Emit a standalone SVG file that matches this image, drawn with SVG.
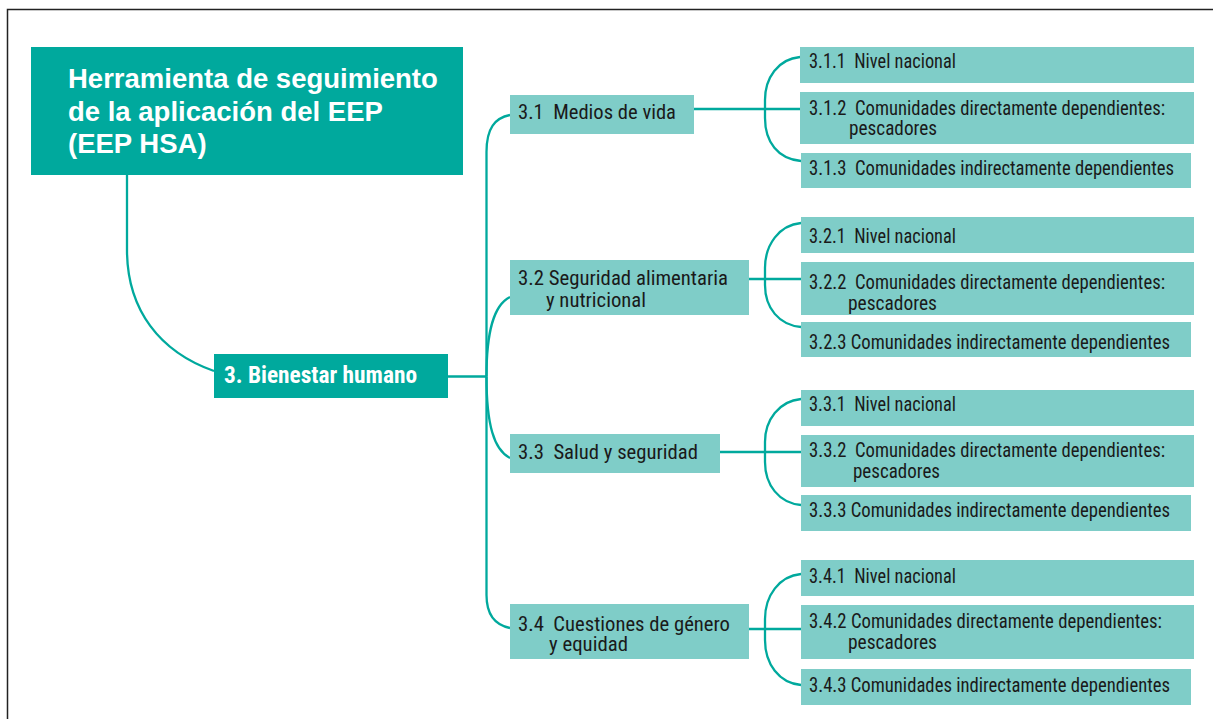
<svg xmlns="http://www.w3.org/2000/svg" width="1213" height="719" viewBox="0 0 1213 719">
<style>
.dark{fill:#00A99D}
.light{fill:#7FCDC8}
.con{fill:none;stroke:#00A99D;stroke-width:2.3}
.title{font-family:'Liberation Sans',Arial,sans-serif;font-weight:bold;font-size:27.5px;fill:#fff}
.nb{font-family:'Liberation Sans Narrow','Roboto Condensed','DejaVu Sans Condensed','Liberation Sans',sans-serif;font-weight:bold;font-size:24px;fill:#fff}
.t{font-family:'Liberation Sans Narrow','Roboto Condensed','DejaVu Sans Condensed','Liberation Sans',sans-serif;font-size:20.5px;fill:#1a1a1a}
</style>
<rect width="1213" height="719" fill="#fff"/>
<path d="M7.5,720 V9.5 H1214" fill="none" stroke="#222" stroke-width="1.5"/>
<g id="connectors">
<path class="con" d="M127,175 V250 C127,310 160,352 214,371"/>
<path class="con" d="M448,376.5 H486.5"/>
<path class="con" d="M486.5,376.5 V152 C486.5,128 495,118 510,115"/>
<path class="con" d="M486.5,376.5 C486.5,330 494,305 510,297"/>
<path class="con" d="M486.5,376.5 C486.5,425 494,450 510,458"/>
<path class="con" d="M486.5,376.5 V595 C486.5,615 495,625 510,628"/>
<path class="con" d="M694,109 H800"/>
<path class="con" d="M800,57 C778,59 765,78 765,100 V118 C765,142 778,159 801,161"/>
<path class="con" d="M749,279 H801"/>
<path class="con" d="M801,223 C779,225 765,245 765,268 V285 C765,308 779,325 801,327"/>
<path class="con" d="M720,452 H801"/>
<path class="con" d="M801,399 C779,401 765,420 765,442 V462 C765,485 779,503 801,505"/>
<path class="con" d="M749,629 H801"/>
<path class="con" d="M801,574 C779,576 765,596 765,619 V640 C765,664 779,683 801,685"/>
</g>
<g id="n-root">
<rect class="dark" x="31" y="47" width="432" height="128"/>
<text class="title" x="68" y="88">Herramienta de seguimiento</text>
<text class="title" x="68" y="120.5">de la aplicación del EEP</text>
<text class="title" x="68" y="153">(EEP HSA)</text>
</g>
<g id="n-3">
<rect class="dark" x="214" y="354" width="234" height="44"/>
<text class="nb" x="224" y="383" textLength="193" lengthAdjust="spacingAndGlyphs">3. Bienestar humano</text>
</g>
<g id="n-3-1">
<rect class="light" x="510" y="95" width="184" height="39"/>
<text class="t" x="518" y="119" xml:space="preserve" textLength="158" lengthAdjust="spacingAndGlyphs">3.1  Medios de vida</text>
</g>
<g id="n-3-2">
<rect class="light" x="510" y="260" width="239" height="55"/>
<text class="t" x="518" y="285" textLength="210" lengthAdjust="spacingAndGlyphs">3.2 Seguridad alimentaria</text>
<text class="t" x="546" y="306.5" textLength="100" lengthAdjust="spacingAndGlyphs">y nutricional</text>
</g>
<g id="n-3-3">
<rect class="light" x="510" y="434" width="210" height="39"/>
<text class="t" x="518" y="459" xml:space="preserve" textLength="180" lengthAdjust="spacingAndGlyphs">3.3  Salud y seguridad</text>
</g>
<g id="n-3-4">
<rect class="light" x="510" y="604" width="239" height="55"/>
<text class="t" x="518" y="631" xml:space="preserve" textLength="212" lengthAdjust="spacingAndGlyphs">3.4  Cuestiones de género</text>
<text class="t" x="549" y="651" textLength="79" lengthAdjust="spacingAndGlyphs">y equidad</text>
</g>
<g id="n-3-1-1">
<rect class="light" x="800" y="47" width="394" height="36"/>
<text class="t" x="809" y="68" xml:space="preserve" textLength="147" lengthAdjust="spacingAndGlyphs">3.1.1  Nivel nacional</text>
</g>
<g id="n-3-1-2">
<rect class="light" x="800" y="92" width="394" height="52"/>
<text class="t" x="809" y="115" xml:space="preserve" textLength="356" lengthAdjust="spacingAndGlyphs">3.1.2  Comunidades directamente dependientes:</text>
<text class="t" x="849" y="135" textLength="88" lengthAdjust="spacingAndGlyphs">pescadores</text>
</g>
<g id="n-3-1-3">
<rect class="light" x="801" y="153" width="390" height="35"/>
<text class="t" x="809" y="175" xml:space="preserve" textLength="365" lengthAdjust="spacingAndGlyphs">3.1.3  Comunidades indirectamente dependientes</text>
</g>
<g id="n-3-2-1">
<rect class="light" x="801" y="217" width="393" height="36"/>
<text class="t" x="809" y="242.5" xml:space="preserve" textLength="147" lengthAdjust="spacingAndGlyphs">3.2.1  Nivel nacional</text>
</g>
<g id="n-3-2-2">
<rect class="light" x="801" y="262" width="393" height="53"/>
<text class="t" x="809" y="289" xml:space="preserve" textLength="356" lengthAdjust="spacingAndGlyphs">3.2.2  Comunidades directamente dependientes:</text>
<text class="t" x="848" y="309.5" textLength="89" lengthAdjust="spacingAndGlyphs">pescadores</text>
</g>
<g id="n-3-2-3">
<rect class="light" x="801" y="322" width="390" height="35"/>
<text class="t" x="809" y="349" textLength="361" lengthAdjust="spacingAndGlyphs">3.2.3 Comunidades indirectamente dependientes</text>
</g>
<g id="n-3-3-1">
<rect class="light" x="801" y="390" width="393" height="36"/>
<text class="t" x="809" y="410.5" xml:space="preserve" textLength="147" lengthAdjust="spacingAndGlyphs">3.3.1  Nivel nacional</text>
</g>
<g id="n-3-3-2">
<rect class="light" x="801" y="435" width="393" height="52"/>
<text class="t" x="809" y="457" xml:space="preserve" textLength="356" lengthAdjust="spacingAndGlyphs">3.3.2  Comunidades directamente dependientes:</text>
<text class="t" x="853" y="478" textLength="87" lengthAdjust="spacingAndGlyphs">pescadores</text>
</g>
<g id="n-3-3-3">
<rect class="light" x="801" y="495" width="390" height="36"/>
<text class="t" x="809" y="516.5" textLength="361" lengthAdjust="spacingAndGlyphs">3.3.3 Comunidades indirectamente dependientes</text>
</g>
<g id="n-3-4-1">
<rect class="light" x="801" y="560" width="393" height="36"/>
<text class="t" x="809" y="582.5" xml:space="preserve" textLength="147" lengthAdjust="spacingAndGlyphs">3.4.1  Nivel nacional</text>
</g>
<g id="n-3-4-2">
<rect class="light" x="801" y="605" width="393" height="54"/>
<text class="t" x="809" y="628" textLength="353" lengthAdjust="spacingAndGlyphs">3.4.2 Comunidades directamente dependientes:</text>
<text class="t" x="848" y="649" textLength="89" lengthAdjust="spacingAndGlyphs">pescadores</text>
</g>
<g id="n-3-4-3">
<rect class="light" x="801" y="669" width="390" height="36"/>
<text class="t" x="809" y="691.5" textLength="361" lengthAdjust="spacingAndGlyphs">3.4.3 Comunidades indirectamente dependientes</text>
</g>
</svg>
